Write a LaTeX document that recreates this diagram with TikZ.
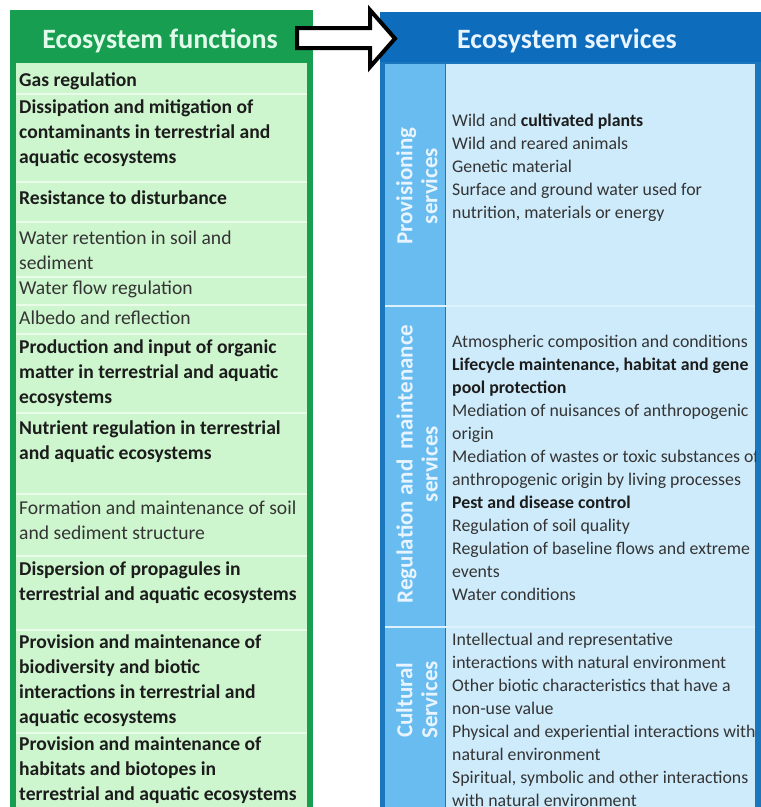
\documentclass[tikz,border=0pt]{standalone}
\usepackage{fontspec}
\setmainfont{Carlito}
\definecolor{gdark}{RGB}{24,158,80}
\definecolor{glight}{RGB}{206,246,206}
\definecolor{gsep}{RGB}{232,252,232}
\definecolor{ghead}{RGB}{225,252,235}
\definecolor{bdark}{RGB}{14,108,188}
\definecolor{bborder}{RGB}{28,118,188}
\definecolor{blabel}{RGB}{105,188,240}
\definecolor{blight}{RGB}{206,235,251}
\definecolor{bsep}{RGB}{222,242,253}
\definecolor{bhead}{RGB}{232,244,255}
\definecolor{txt}{RGB}{28,28,28}
\definecolor{txtg}{RGB}{52,52,52}
\newcommand{\fla}{\rule{0pt}{16pt}}
\newcommand{\flb}{\rule{0pt}{15pt}}
\tikzset{
  lt/.style={anchor=north west, inner sep=0pt, align=left, text=txt,
    font=\fontsize{19.6}{25}\selectfont\bfseries},
  ltr/.style={lt, text=txtg, font=\fontsize{19.6}{25}\selectfont},
  rt/.style={anchor=north west, inner sep=0pt, align=left, text=txtg,
    font=\fontsize{17.8}{23}\selectfont},
  lab/.style={rotate=90, align=center, inner sep=0pt, text=bhead,
    font=\fontsize{23}{25}\selectfont\bfseries},
  head/.style={anchor=base, inner sep=0pt, font=\fontsize{28}{30}\selectfont\bfseries}
}
\begin{document}
\begin{tikzpicture}[x=1pt,y=-1pt]
\useasboundingbox[fill=white] (0,0) rectangle (761,807);
% left panel
\fill[gdark] (10,10) rectangle (313,807);
\fill[glight] (16,63) rectangle (307,807);
\foreach \yy in {94,182,222,277,305,334,413,494,556,630,733}
  \draw[gsep, line width=2pt] (16,\yy) -- (307,\yy);
\node[head, text=ghead] (fh) at (160,48) {Ecosystem functions};
% right panel
\fill[bborder] (380,12) rectangle (761,807);
\fill[bdark] (380,12) rectangle (761,62);
\fill[blabel] (385,64) rectangle (445,807);
\fill[blight] (446,64) rectangle (755,807);
\foreach \yy in {306,627}
  \draw[bsep, line width=2pt] (385,\yy) -- (755,\yy);
\node[head, text=bhead] (sh) at (567,48) {Ecosystem services};
% arrow
\draw[black, fill=white, line width=4pt, line join=miter]
  (297,28) -- (370,28) -- (370,10) -- (395,38.5) -- (370,67) -- (370,48) -- (297,48) -- cycle;
% left texts
\node[lt] (f1) at (19,70) {\fla Gas regulation};
\node[lt] (f2) at (19,97) {\fla Dissipation and mitigation of\\contaminants in terrestrial and\\aquatic ecosystems};
\node[lt] (f3) at (19,188) {\fla Resistance to disturbance};
\node[ltr] (f4) at (19,228) {\fla Water retention in soil and\\sediment};
\node[ltr] (f5) at (19,278) {\fla Water flow regulation};
\node[ltr] (f6) at (19,308) {\fla Albedo and reflection};
\node[lt] (f7) at (19,337) {\fla Production and input of organic\\matter in terrestrial and aquatic\\ecosystems};
\node[lt] (f8) at (19,418) {\fla Nutrient regulation in terrestrial\\and aquatic ecosystems};
\node[ltr] (f9) at (19,498) {\fla Formation and maintenance of soil\\and sediment structure};
\node[lt] (f10) at (19,559) {\fla Dispersion of propagules in\\terrestrial and aquatic ecosystems};
\node[lt] (f11) at (19,632) {\fla Provision and maintenance of\\biodiversity and biotic\\interactions in terrestrial and\\aquatic ecosystems};
\node[lt] (f12) at (19,734) {\fla Provision and maintenance of\\habitats and biotopes in\\terrestrial and aquatic ecosystems};
% right labels
\node[lab] (pl) at (417,186) {Provisioning\\services};
\node[lab] (rl) at (417,464) {Regulation and\ \ maintenance\\services};
\node[lab] (cl) at (417,700) {Cultural\\Services};
% right texts
\node[rt] (s1) at (452,111) {\flb Wild and \textbf{\color{txt}cultivated plants}\\Wild and reared animals\\Genetic material\\Surface and ground water used for\\nutrition, materials or energy};
\node[rt] (s2) at (452,332) {\flb Atmospheric composition and conditions\\\textbf{\color{txt}Lifecycle maintenance, habitat and gene}\\\textbf{\color{txt}pool protection}\\Mediation of nuisances of anthropogenic\\origin\\Mediation of wastes or toxic substances of\\anthropogenic origin by living processes\\\textbf{\color{txt}Pest and disease control}\\Regulation of soil quality\\Regulation of baseline flows and extreme\\events\\Water conditions};
\node[rt] (s3) at (452,630) {\flb Intellectual and representative\\interactions with natural environment\\Other biotic characteristics that have a\\non-use value\\Physical and experiential interactions with\\natural environment\\Spiritual, symbolic and other interactions\\with natural environment};
\fill[bborder] (756,64) rectangle (761,807);
\end{tikzpicture}
\end{document}
